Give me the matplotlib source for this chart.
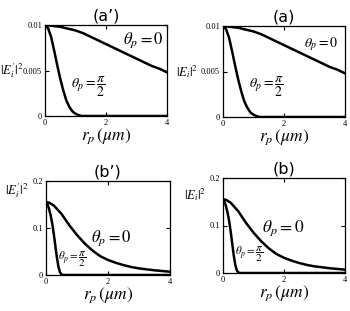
import matplotlib.pyplot as plt
import numpy as np

plt.rcParams['mathtext.fontset'] = 'stix'
plt.rcParams['font.family'] = 'DejaVu Sans'

# data
r_wide = [0, 0.25, 0.5, 0.75, 1.0, 1.25, 1.5, 1.75, 2.0, 2.25, 2.5, 2.75, 3.0, 3.25, 3.5, 3.75, 4.0]
a_wide = [0.0100, 0.0099, 0.0098, 0.0096, 0.0094, 0.0091, 0.0087, 0.0083, 0.0079, 0.0075,
          0.0071, 0.0067, 0.0063, 0.0059, 0.0055, 0.0052, 0.0048]
r_narrow = [0, 0.1, 0.2, 0.3, 0.4, 0.5, 0.6, 0.7, 0.8, 0.9, 1.0, 1.1, 1.2, 4.0]
a_narrow = [0.0100, 0.00965, 0.0087, 0.0072, 0.0056, 0.0041, 0.0028, 0.0017, 0.0010,
            0.0005, 0.00025, 0.0001, 0.0, 0.0]

r_b = [0, 0.1, 0.25, 0.5, 0.75, 1.0, 1.25, 1.5, 1.75, 2.0, 2.25, 2.5, 2.75, 3.0, 3.5, 4.0]
b_wide = [0.155, 0.154, 0.148, 0.130, 0.106, 0.085, 0.067, 0.052, 0.040, 0.032,
          0.026, 0.021, 0.017, 0.014, 0.010, 0.007]
r_bn = [0, 0.05, 0.1, 0.15, 0.2, 0.25, 0.3, 0.35, 0.4, 0.45, 0.5, 0.55, 4.0]
b_narrow = [0.154, 0.150, 0.140, 0.127, 0.110, 0.088, 0.063, 0.038, 0.018, 0.006,
            0.0012, 0.0, 0.0]

W, H = 350, 311
fig = plt.figure(figsize=(W / 100, H / 100), dpi=100)


def box(l, t, r, b):
    return [l / W, 1 - b / H, (r - l) / W, (b - t) / H]


panels = [
    dict(rect=box(45, 25, 167, 116), title="(a\u2019)", ylab=r"$|E_i'|^2$",
         x=(r_wide, r_narrow), y=(a_wide, a_narrow), ymax=0.01,
         yticks=[0, 0.005, 0.01], ytl=["0", "0.005", "0.01"],
         t0=(2.55, 0.0083, 12), t1=(0.85, 0.0032, 10), ylpos=(-0.175, 0.5)),
    dict(rect=box(223, 26, 345, 117), title="(a)", ylab=r"$|E_i|^2$",
         x=(r_wide, r_narrow), y=(a_wide, a_narrow), ymax=0.01,
         yticks=[0, 0.005, 0.01], ytl=["0", "0.005", "0.01"],
         t0=(2.65, 0.0080, 10), t1=(0.85, 0.0033, 10), ylpos=(-0.2, 0.5)),
    dict(rect=box(46, 181, 170, 275), title="(b\u2019)", ylab=r"$|E_i'|^2$",
         x=(r_b, r_bn), y=(b_wide, b_narrow), ymax=0.2,
         yticks=[0, 0.1, 0.2], ytl=["0", "0.1", "0.2"],
         t0=(1.45, 0.079, 12), t1=(0.38, 0.034, 8), ylpos=(-0.14, 0.9)),
    dict(rect=box(223, 178, 345, 273), title="(b)", ylab=r"$|E_i|^2$",
         x=(r_b, r_bn), y=(b_wide, b_narrow), ymax=0.2,
         yticks=[0, 0.1, 0.2], ytl=["0", "0.1", "0.2"],
         t0=(1.27, 0.095, 12.5), t1=(0.38, 0.039, 8), ylpos=(-0.14, 0.83)),
]

for p in panels:
    ax = fig.add_axes(p["rect"])
    ax.plot(p["x"][0], p["y"][0], color="black", lw=1.8)
    ax.plot(p["x"][1], p["y"][1], color="black", lw=1.8)
    ax.set_xlim(0, 4)
    ax.set_ylim(0, p["ymax"])
    ax.set_xticks([0, 2, 4])
    ax.set_xticklabels(["0", "2", "4"], family="Liberation Serif")
    ax.set_yticks(p["yticks"])
    ax.set_yticklabels(p["ytl"], family="Liberation Serif")
    ax.tick_params(direction="in", length=3, width=0.8, labelsize=6, pad=2,
                   top=True, right=True)
    for s in ax.spines.values():
        s.set_linewidth(0.9)
    ax.set_title(p["title"], fontsize=11.5, pad=3)
    ax.set_xlabel(r"$r_p\,(\mu m)$", fontsize=12.5, labelpad=0)
    ax.text(p["ylpos"][0], p["ylpos"][1], p["ylab"], transform=ax.transAxes,
            fontsize=9, ha="right", va="center")
    x0, y0, fs = p["t0"]
    ax.text(x0, y0, r"$\theta_p = 0$", fontsize=fs, ha="left", va="center")
    x1, y1, fs1 = p["t1"]
    ax.text(x1, y1, r"$\theta_p = \dfrac{\pi}{2}$", fontsize=fs1, ha="left", va="center")

fig.savefig("out.png", dpi=100)
